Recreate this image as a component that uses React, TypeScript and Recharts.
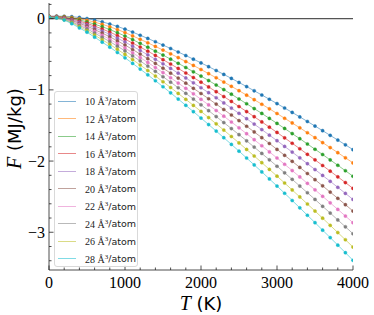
import { Line, LineChart, ReferenceLine, XAxis, YAxis } from 'recharts'

const TEMPS = [
  0, 100, 200, 300, 400, 500, 600, 700, 800, 900, 1000, 1100, 1200, 1300, 1400, 1500, 1600, 1700, 1800, 1900, 2000,
  2100, 2200, 2300, 2400, 2500, 2600, 2700, 2800, 2900, 3000, 3100, 3200, 3300, 3400, 3500, 3600, 3700, 3800, 3900, 4000,
]

// free energy (MJ/kg), one array per volume
const F_10 = [
  0.035, 0.035, 0.034, 0.028, 0.017, 0.001, -0.02, -0.045, -0.075, -0.109, -0.147, -0.189, -0.233, -0.278, -0.324,
  -0.371, -0.419, -0.468, -0.518, -0.569, -0.621, -0.674, -0.728, -0.783, -0.839, -0.896, -0.954, -1.013, -1.072,
  -1.132, -1.193, -1.255, -1.317, -1.38, -1.444, -1.508, -1.573, -1.639, -1.705, -1.772, -1.84,
]
const F_12 = [
  0.033, 0.032, 0.028, 0.016, -0.001, -0.022, -0.049, -0.079, -0.114, -0.153, -0.195, -0.242, -0.29, -0.339, -0.39,
  -0.441, -0.494, -0.547, -0.602, -0.657, -0.714, -0.772, -0.83, -0.89, -0.95, -1.012, -1.074, -1.138, -1.202, -1.266,
  -1.332, -1.399, -1.465, -1.533, -1.602, -1.671, -1.741, -1.811, -1.882, -1.954, -2.026,
]
const F_14 = [
  0.031, 0.029, 0.021, 0.004, -0.018, -0.045, -0.078, -0.113, -0.153, -0.197, -0.244, -0.294, -0.347, -0.401, -0.456,
  -0.511, -0.569, -0.627, -0.686, -0.746, -0.807, -0.869, -0.932, -0.996, -1.061, -1.128, -1.195, -1.263, -1.331,
  -1.401, -1.471, -1.542, -1.614, -1.686, -1.76, -1.834, -1.908, -1.984, -2.059, -2.136, -2.213,
]
const F_16 = [
  0.03, 0.026, 0.015, -0.006, -0.034, -0.066, -0.104, -0.145, -0.189, -0.237, -0.288, -0.343, -0.399, -0.457, -0.516,
  -0.576, -0.637, -0.699, -0.763, -0.827, -0.892, -0.959, -1.026, -1.094, -1.163, -1.234, -1.305, -1.377, -1.45, -1.524,
  -1.598, -1.674, -1.75, -1.827, -1.905, -1.983, -2.062, -2.142, -2.222, -2.302, -2.384,
]
const F_18 = [
  0.028, 0.024, 0.01, -0.016, -0.049, -0.085, -0.128, -0.173, -0.221, -0.274, -0.328, -0.387, -0.447, -0.508, -0.571,
  -0.634, -0.699, -0.765, -0.833, -0.901, -0.97, -1.04, -1.111, -1.183, -1.256, -1.33, -1.405, -1.481, -1.558, -1.636,
  -1.714, -1.794, -1.874, -1.955, -2.037, -2.119, -2.202, -2.285, -2.369, -2.454, -2.539,
]
const F_20 = [
  0.027, 0.021, 0.004, -0.026, -0.065, -0.105, -0.153, -0.203, -0.255, -0.312, -0.371, -0.433, -0.497, -0.562, -0.628,
  -0.696, -0.765, -0.835, -0.906, -0.978, -1.051, -1.125, -1.2, -1.276, -1.353, -1.432, -1.511, -1.591, -1.671, -1.753,
  -1.836, -1.919, -2.004, -2.089, -2.175, -2.261, -2.348, -2.436, -2.524, -2.613, -2.702,
]
const F_22 = [
  0.025, 0.018, -0.002, -0.037, -0.08, -0.125, -0.178, -0.233, -0.29, -0.351, -0.413, -0.479, -0.547, -0.615, -0.686,
  -0.757, -0.83, -0.904, -0.979, -1.055, -1.133, -1.211, -1.29, -1.37, -1.451, -1.533, -1.616, -1.7, -1.785, -1.871,
  -1.957, -2.045, -2.133, -2.223, -2.313, -2.404, -2.495, -2.587, -2.679, -2.772, -2.866,
]
const F_24 = [
  0.024, 0.016, -0.007, -0.046, -0.095, -0.144, -0.202, -0.262, -0.322, -0.387, -0.453, -0.523, -0.594, -0.666, -0.74,
  -0.816, -0.892, -0.97, -1.049, -1.129, -1.21, -1.292, -1.375, -1.459, -1.544, -1.629, -1.716, -1.804, -1.893, -1.982,
  -2.073, -2.165, -2.257, -2.351, -2.445, -2.539, -2.635, -2.73, -2.827, -2.923, -3.021,
]
const F_26 = [
  0.022, 0.013, -0.014, -0.058, -0.112, -0.167, -0.231, -0.296, -0.361, -0.431, -0.502, -0.575, -0.651, -0.728, -0.806,
  -0.886, -0.967, -1.05, -1.133, -1.218, -1.303, -1.389, -1.477, -1.565, -1.655, -1.745, -1.837, -1.929, -2.022, -2.117,
  -2.212, -2.308, -2.406, -2.504, -2.603, -2.702, -2.802, -2.903, -3.004, -3.105, -3.208,
]
const F_28 = [
  0.02, 0.01, -0.02, -0.07, -0.13, -0.19, -0.26, -0.33, -0.4, -0.475, -0.55, -0.628, -0.708, -0.789, -0.872, -0.956,
  -1.042, -1.129, -1.217, -1.306, -1.396, -1.487, -1.579, -1.672, -1.766, -1.861, -1.957, -2.054, -2.152, -2.251,
  -2.351, -2.452, -2.554, -2.657, -2.761, -2.865, -2.97, -3.075, -3.181, -3.287, -3.394,
]

const VOLUMES = [10, 12, 14, 16, 18, 20, 22, 24, 26, 28]
const VALUES = [F_10, F_12, F_14, F_16, F_18, F_20, F_22, F_24, F_26, F_28]
const COLORS = ['#1f77b4', '#ff7f0e', '#2ca02c', '#d62728', '#9467bd', '#8c564b', '#e377c2', '#7f7f7f', '#bcbd22', '#17becf']

const X_TICKS = [
  0, 200, 400, 600, 800, 1000, 1200, 1400, 1600, 1800, 2000, 2200, 2400, 2600, 2800, 3000, 3200, 3400, 3600, 3800, 4000,
]
const Y_TICKS = [
  0.2, 0, -0.2, -0.4, -0.6, -0.8, -1, -1.2, -1.4, -1.6, -1.8, -2, -2.2, -2.4, -2.6, -2.8, -3, -3.2, -3.4,
]
const Y_DOMAIN: [number, number] = [-3.53, 0.22]

const AXIS = '#222'
const SERIF = '"Liberation Serif", "DejaVu Serif", serif'
const SANS = '"DejaVu Sans", sans-serif'

const chartData = TEMPS.map((T, i) => {
  const row: Record<string, number> = { T }
  VOLUMES.forEach((v, k) => {
    row[`v${v}`] = VALUES[k][i]
  })
  return row
})

const isMajorX = (v: number) => v % 1000 === 0
const isMajorY = (v: number) => Math.abs(v - Math.round(v)) < 1e-6
const fmtY = (v: number) => (v < 0 ? `\u2212${Math.abs(Math.round(v))}` : String(Math.round(v)))

function BottomTick({ x, y, payload }: any) {
  const major = isMajorX(payload.value)
  return (
    <g>
      <line x1={x} x2={x} y1={y} y2={y - (major ? 4.5 : 2.5)} stroke={AXIS} strokeWidth={0.8} />
      {major ? (
        <text x={x} y={y + 18} textAnchor="middle" fontFamily={SERIF} fontSize={16} fill="#000">
          {payload.value}
        </text>
      ) : null}
    </g>
  )
}

function TopTick({ x, y, payload }: any) {
  const major = isMajorX(payload.value)
  return <line x1={x} x2={x} y1={y} y2={y + (major ? 4.5 : 2.5)} stroke={AXIS} strokeWidth={0.8} />
}

function LeftTick({ x, y, payload }: any) {
  const major = isMajorY(payload.value)
  return (
    <g>
      <line x1={x} x2={x + (major ? 4.5 : 2.5)} y1={y} y2={y} stroke={AXIS} strokeWidth={0.8} />
      {major ? (
        <text x={x - 4} y={y + 5.5} textAnchor="end" fontFamily={SERIF} fontSize={16} fill="#000">
          {fmtY(payload.value)}
        </text>
      ) : null}
    </g>
  )
}

function RightTick({ x, y, payload }: any) {
  const major = isMajorY(payload.value)
  return <line x1={x} x2={x - (major ? 4.5 : 2.5)} y1={y} y2={y} stroke={AXIS} strokeWidth={0.8} />
}

function XTitle({ viewBox }: any) {
  const cx = viewBox.x + viewBox.width / 2
  return (
    <text x={cx} y={viewBox.y + 40} textAnchor="middle" fill="#000">
      <tspan fontFamily={SERIF} fontStyle="italic" fontSize={20}>
        T
      </tspan>
      <tspan fontFamily={SANS} fontSize={18}>
        {' (K)'}
      </tspan>
    </text>
  )
}

function YTitle({ viewBox }: any) {
  const cx = 21
  const cy = viewBox.y + viewBox.height / 2 - 8
  return (
    <text x={cx} y={cy} textAnchor="middle" transform={`rotate(-90 ${cx} ${cy})`} fill="#000">
      <tspan fontFamily={SERIF} fontStyle="italic" fontSize={20}>
        F
      </tspan>
      <tspan fontFamily={SANS} fontSize={18}>
        {' (MJ/kg)'}
      </tspan>
    </text>
  )
}

function VolumeLegend() {
  return (
    <div
      style={{
        position: 'absolute',
        left: 54,
        top: 91,
        width: 84,
        height: 176,
        boxSizing: 'border-box',
        border: '1px solid #d9d9d9',
        borderRadius: 3,
        background: 'rgba(255,255,255,0.8)',
      }}
    >
      {VOLUMES.map((v, k) => (
        <div
          key={v}
          style={{ position: 'absolute', left: 0, top: 1 + k * 17.5, height: 16, display: 'flex', alignItems: 'center' }}
        >
          <span style={{ display: 'inline-block', marginLeft: 3, width: 18, height: 1, background: COLORS[k], opacity: 0.55 }} />
          <span style={{ marginLeft: 9, fontSize: 10, color: '#222', whiteSpace: 'nowrap' }}>
            <span style={{ fontFamily: SERIF }}>
              {v} Å<sup style={{ fontSize: 7 }}>3</sup>
            </span>
            <span style={{ fontFamily: SANS, fontSize: 9.5 }}>/atom</span>
          </span>
        </div>
      ))}
    </div>
  )
}

export default function App() {
  return (
    <div style={{ position: 'absolute', left: 0, top: 0, width: 374, height: 315, background: '#fff' }}>
      <LineChart width={374} height={315} data={chartData} margin={{ top: 3, right: 21, left: 0, bottom: 0 }}>
        <XAxis
          dataKey="T"
          type="number"
          domain={[0, 4000]}
          ticks={X_TICKS}
          interval={0}
          height={45}
          tickSize={0}
          tickMargin={0}
          tickLine={false}
          tick={BottomTick}
          axisLine={{ stroke: AXIS, strokeWidth: 0.8 }}
          allowDataOverflow
          label={{ content: XTitle }}
        />
        <XAxis
          xAxisId="top"
          orientation="top"
          dataKey="T"
          type="number"
          domain={[0, 4000]}
          ticks={X_TICKS}
          interval={0}
          height={0}
          tickSize={0}
          tickMargin={0}
          tickLine={false}
          tick={TopTick}
          axisLine={{ stroke: AXIS, strokeWidth: 0.8 }}
          allowDataOverflow
        />
        <YAxis
          type="number"
          domain={Y_DOMAIN}
          ticks={Y_TICKS}
          interval={0}
          width={49}
          tickSize={0}
          tickMargin={0}
          tickLine={false}
          tick={LeftTick}
          axisLine={{ stroke: AXIS, strokeWidth: 0.8 }}
          allowDataOverflow
          label={{ content: YTitle }}
        />
        <YAxis
          yAxisId="right"
          orientation="right"
          type="number"
          domain={Y_DOMAIN}
          ticks={Y_TICKS}
          interval={0}
          width={0}
          tickSize={0}
          tickMargin={0}
          tickLine={false}
          tick={RightTick}
          axisLine={{ stroke: AXIS, strokeWidth: 0.8 }}
          allowDataOverflow
        />
        <ReferenceLine y={0} stroke="#555" strokeWidth={1.2} />
        {VOLUMES.map((v, k) => (
          <Line
            key={v}
            dataKey={`v${v}`}
            type="linear"
            stroke={COLORS[k]}
            strokeOpacity={0.55}
            strokeWidth={1}
            dot={{ r: 1.6, fill: COLORS[k], stroke: COLORS[k], strokeWidth: 0.4, strokeOpacity: 1 }}
            activeDot={false}
            isAnimationActive={false}
          />
        ))}
      </LineChart>
      <VolumeLegend />
    </div>
  )
}
